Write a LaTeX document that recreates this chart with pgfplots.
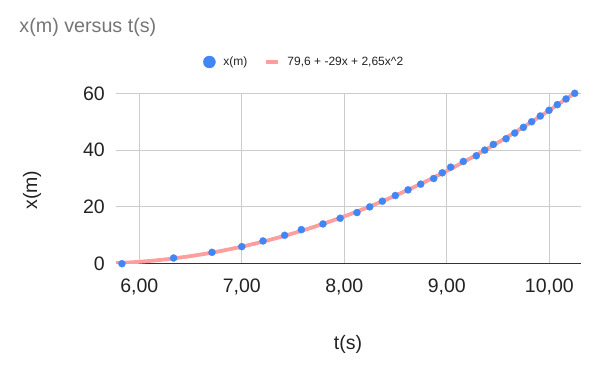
\documentclass[border=0pt]{standalone}
\usepackage{fontspec}
\setmainfont{Liberation Sans}
\usepackage{pgfplots}
\pgfplotsset{compat=1.18}
\definecolor{dotblue}{HTML}{4285F4}
\definecolor{trend}{HTML}{FF9E9E}
\definecolor{gridc}{HTML}{CCCCCC}
\definecolor{axc}{HTML}{333333}
\definecolor{titlec}{HTML}{757575}
\definecolor{txt}{HTML}{222222}
\begin{document}
\begin{tikzpicture}[x=1pt,y=1pt]
\path[use as bounding box] (0,0) rectangle (600,371);
\begin{axis}[
  at={(116pt,107.3pt)}, anchor=south west,
  scale only axis, width=465pt, height=170.4pt,
  xmin=5.773, xmax=10.309, ymin=0, ymax=60,
  xtick={6,7,8,9,10},
  xticklabels={{6,00},{7,00},{8,00},{9,00},{10,00}},
  ytick={0,20,40,60},
  yticklabels={0,20,40,60},
  /pgf/number format/assume math mode=true,
  major tick length=0pt,
  grid=major,
  major grid style={draw=gridc, line width=1pt},
  separate axis lines,
  axis x line*=bottom,
  axis y line*=left,
  x axis line style={draw=axc, line width=1pt, -},
  y axis line style={draw=none},
  ticklabel style={font=\fontsize{19.5}{23}\selectfont, text=txt},
  xticklabel style={anchor=north, inner sep=0pt, yshift=-15.3pt},
  yticklabel style={anchor=east, inner sep=0pt, xshift=-11pt},
  xlabel={t(s)},
  ylabel={x(m)},
  label style={font=\fontsize{19.5}{23}\selectfont, text=txt},
  xlabel style={at={(0.4989,-0.4712)}, anchor=center, inner sep=0pt},
  ylabel style={at={(-0.1806,0.4325)}, anchor=center, inner sep=0pt, rotate=0},
  title={x(m) versus t(s)},
  title style={at={(-0.208,1.354)}, anchor=west, inner sep=0pt, font=\fontsize{19.7}{23}\selectfont, text=titlec},
  legend columns=2,
  legend style={at={(0.1871,1.1837)}, anchor=west, draw=none, fill=none, inner sep=0pt,
    font=\fontsize{12}{14}\selectfont, nodes={inner sep=0pt, text=txt},
    /tikz/every odd column/.append style={column sep=7.7pt},
    /tikz/every even column/.append style={column sep=17pt}},
]
\addplot[trend, line width=3.8pt, smooth, forget plot] coordinates {
(5.773,0.20) (6.00,0.67) (6.25,1.50) (6.50,2.67) (6.75,4.17) (7.00,6.00)
(7.25,8.17) (7.50,10.67) (7.75,13.50) (8.00,16.67) (8.25,20.17) (8.50,24.00)
(8.75,28.17) (9.00,32.67) (9.25,37.50) (9.50,42.67) (9.75,48.17) (10.00,54.00)
(10.25,60.17) (10.309,61.67)
};
\addplot[dotblue, only marks, mark=*, mark size=3.6pt, mark options={draw=dotblue, fill=dotblue, line width=0.2pt},
  legend image code/.code={\fill[dotblue] (6pt,0pt) circle (6pt);}] coordinates {
(5.831,0) (6.335,2) (6.709,4) (7.000,6) (7.207,8) (7.418,10) (7.581,12)
(7.792,14) (7.960,16) (8.124,18) (8.248,20) (8.371,22) (8.498,24) (8.622,26)
(8.745,28) (8.872,30) (8.956,32) (9.038,34) (9.161,36) (9.288,38) (9.370,40)
(9.454,42) (9.578,44) (9.663,46) (9.747,48) (9.828,50) (9.912,52) (9.997,54)
(10.078,56) (10.163,58) (10.248,60)
};
\addlegendentry{x(m)}
\addlegendimage{legend image code/.code={\draw[trend, line width=3.5pt] (0pt,0pt) -- (12pt,0pt);}}
\addlegendentry{79,6 + -29x + 2,65x\textasciicircum 2}
\end{axis}
\end{tikzpicture}
\end{document}
